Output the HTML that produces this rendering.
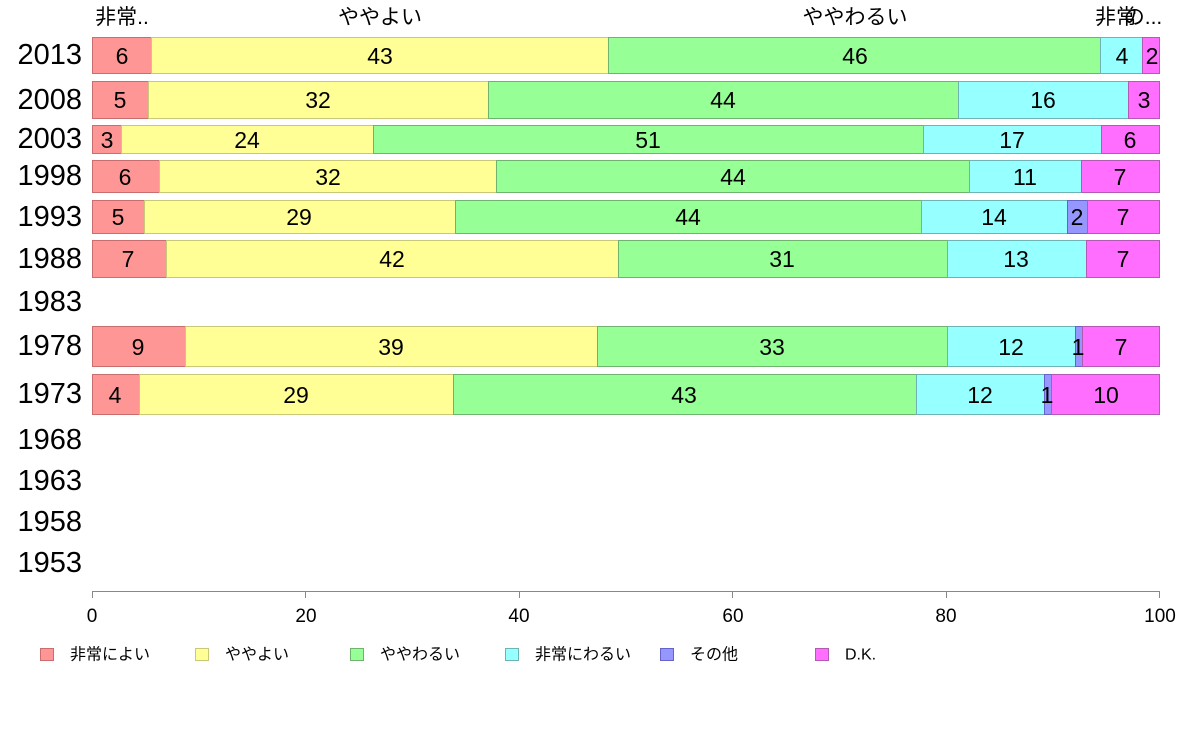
<!DOCTYPE html>
<html><head><meta charset="utf-8"><style>
html,body{margin:0;padding:0;background:#fff}
svg{display:block}
text{font-family:"Liberation Sans","Noto Sans CJK JP",sans-serif;fill:#000}
.y{font-size:29px;text-anchor:end;dominant-baseline:central}
.n{font-size:23px;text-anchor:middle;dominant-baseline:central}
.t{font-size:21px;text-anchor:middle}
.k{font-size:19px;text-anchor:middle}
.l{font-size:16px;dominant-baseline:central}
.r{fill:#FF9696;stroke:#c86e6e}
.ye{fill:#FFFF96;stroke:#c8c878}
.g{fill:#96FF96;stroke:#6eb46e}
.c{fill:#96FFFF;stroke:#6eb4b4}
.b{fill:#9696FF;stroke:#6464c8}
.m{fill:#FF6EFF;stroke:#b45ab4}
rect{stroke-width:1}
</style></head><body>
<svg width="1188" height="736" viewBox="0 0 1188 736">
<text class="t" x="122" y="24">非常..</text>
<text class="t" x="380" y="24">ややよい</text>
<text class="t" x="855" y="24">ややわるい</text>
<text class="t" x="1116" y="24">非常</text>
<text class="t" x="1143" y="24">の...</text>

<text class="y" x="82" y="55">2013</text>
<text class="y" x="82" y="100">2008</text>
<text class="y" x="82" y="139">2003</text>
<text class="y" x="82" y="176">1998</text>
<text class="y" x="82" y="217">1993</text>
<text class="y" x="82" y="259">1988</text>
<text class="y" x="82" y="302">1983</text>
<text class="y" x="82" y="346">1978</text>
<text class="y" x="82" y="394">1973</text>
<text class="y" x="82" y="440">1968</text>
<text class="y" x="82" y="481">1963</text>
<text class="y" x="82" y="522">1958</text>
<text class="y" x="82" y="563">1953</text>

<g>
<rect class="r" x="92.5" y="37.5" width="59" height="36"/>
<rect class="ye" x="151.5" y="37.5" width="457" height="36"/>
<rect class="g" x="608.5" y="37.5" width="492" height="36"/>
<rect class="c" x="1100.5" y="37.5" width="42" height="36"/>
<rect class="m" x="1142.5" y="37.5" width="17" height="36"/>
<text class="n" x="122" y="56">6</text><text class="n" x="380" y="56">43</text><text class="n" x="855" y="56">46</text><text class="n" x="1122" y="56">4</text><text class="n" x="1152" y="56">2</text>
</g>
<g>
<rect class="r" x="92.5" y="81.5" width="56" height="37"/>
<rect class="ye" x="148.5" y="81.5" width="340" height="37"/>
<rect class="g" x="488.5" y="81.5" width="470" height="37"/>
<rect class="c" x="958.5" y="81.5" width="170" height="37"/>
<rect class="m" x="1128.5" y="81.5" width="31" height="37"/>
<text class="n" x="120" y="100">5</text><text class="n" x="318" y="100">32</text><text class="n" x="723" y="100">44</text><text class="n" x="1043" y="100">16</text><text class="n" x="1144" y="100">3</text>
</g>
<g>
<rect class="r" x="92.5" y="125.5" width="29" height="28"/>
<rect class="ye" x="121.5" y="125.5" width="252" height="28"/>
<rect class="g" x="373.5" y="125.5" width="550" height="28"/>
<rect class="c" x="923.5" y="125.5" width="178" height="28"/>
<rect class="m" x="1101.5" y="125.5" width="58" height="28"/>
<text class="n" x="107" y="140">3</text><text class="n" x="247" y="140">24</text><text class="n" x="648" y="140">51</text><text class="n" x="1012" y="140">17</text><text class="n" x="1130" y="140">6</text>
</g>
<g>
<rect class="r" x="92.5" y="160.5" width="67" height="32"/>
<rect class="ye" x="159.5" y="160.5" width="337" height="32"/>
<rect class="g" x="496.5" y="160.5" width="473" height="32"/>
<rect class="c" x="969.5" y="160.5" width="112" height="32"/>
<rect class="m" x="1081.5" y="160.5" width="78" height="32"/>
<text class="n" x="125" y="177">6</text><text class="n" x="328" y="177">32</text><text class="n" x="733" y="177">44</text><text class="n" x="1025" y="177">11</text><text class="n" x="1120" y="177">7</text>
</g>
<g>
<rect class="r" x="92.5" y="200.5" width="52" height="33"/>
<rect class="ye" x="144.5" y="200.5" width="311" height="33"/>
<rect class="g" x="455.5" y="200.5" width="466" height="33"/>
<rect class="c" x="921.5" y="200.5" width="146" height="33"/>
<rect class="b" x="1067.5" y="200.5" width="20" height="33"/>
<rect class="m" x="1087.5" y="200.5" width="72" height="33"/>
<text class="n" x="118" y="217">5</text><text class="n" x="299" y="217">29</text><text class="n" x="688" y="217">44</text><text class="n" x="994" y="217">14</text><text class="n" x="1077" y="217">2</text><text class="n" x="1123" y="217">7</text>
</g>
<g>
<rect class="r" x="92.5" y="240.5" width="74" height="37"/>
<rect class="ye" x="166.5" y="240.5" width="452" height="37"/>
<rect class="g" x="618.5" y="240.5" width="329" height="37"/>
<rect class="c" x="947.5" y="240.5" width="139" height="37"/>
<rect class="m" x="1086.5" y="240.5" width="73" height="37"/>
<text class="n" x="128" y="259">7</text><text class="n" x="392" y="259">42</text><text class="n" x="782" y="259">31</text><text class="n" x="1016" y="259">13</text><text class="n" x="1123" y="259">7</text>
</g>
<g>
<rect class="r" x="92.5" y="326.5" width="93" height="40"/>
<rect class="ye" x="185.5" y="326.5" width="412" height="40"/>
<rect class="g" x="597.5" y="326.5" width="350" height="40"/>
<rect class="c" x="947.5" y="326.5" width="128" height="40"/>
<rect class="b" x="1075.5" y="326.5" width="7" height="40"/>
<rect class="m" x="1082.5" y="326.5" width="77" height="40"/>
<text class="n" x="138" y="347">9</text><text class="n" x="391" y="347">39</text><text class="n" x="772" y="347">33</text><text class="n" x="1011" y="347">12</text><text class="n" x="1078" y="347">1</text><text class="n" x="1121" y="347">7</text>
</g>
<g>
<rect class="r" x="92.5" y="374.5" width="47" height="40"/>
<rect class="ye" x="139.5" y="374.5" width="314" height="40"/>
<rect class="g" x="453.5" y="374.5" width="463" height="40"/>
<rect class="c" x="916.5" y="374.5" width="128" height="40"/>
<rect class="b" x="1044.5" y="374.5" width="7" height="40"/>
<rect class="m" x="1051.5" y="374.5" width="108" height="40"/>
<text class="n" x="115" y="395">4</text><text class="n" x="296" y="395">29</text><text class="n" x="684" y="395">43</text><text class="n" x="980" y="395">12</text><text class="n" x="1047" y="395">1</text><text class="n" x="1106" y="395">10</text>
</g>

<g stroke="#888" stroke-width="1">
<line x1="92" y1="591.5" x2="1160" y2="591.5"/>
<line x1="92.5" y1="591" x2="92.5" y2="598"/>
<line x1="305.5" y1="591" x2="305.5" y2="598"/>
<line x1="519.5" y1="591" x2="519.5" y2="598"/>
<line x1="732.5" y1="591" x2="732.5" y2="598"/>
<line x1="946.5" y1="591" x2="946.5" y2="598"/>
<line x1="1159.5" y1="591" x2="1159.5" y2="598"/>
</g>
<text class="k" x="92" y="622">0</text>
<text class="k" x="306" y="622">20</text>
<text class="k" x="519" y="622">40</text>
<text class="k" x="733" y="622">60</text>
<text class="k" x="946" y="622">80</text>
<text class="k" x="1160" y="622">100</text>

<rect class="r" x="40.5" y="648.5" width="13" height="12"/>
<text class="l" x="70" y="655">非常によい</text>
<rect class="ye" x="195.5" y="648.5" width="13" height="12"/>
<text class="l" x="225" y="655">ややよい</text>
<rect class="g" x="350.5" y="648.5" width="13" height="12"/>
<text class="l" x="380" y="655">ややわるい</text>
<rect class="c" x="505.5" y="648.5" width="13" height="12"/>
<text class="l" x="535" y="655">非常にわるい</text>
<rect class="b" x="660.5" y="648.5" width="13" height="12"/>
<text class="l" x="690" y="655">その他</text>
<rect class="m" x="815.5" y="648.5" width="13" height="12"/>
<text class="l" x="845" y="655">D.K.</text>
</svg>
</body></html>
